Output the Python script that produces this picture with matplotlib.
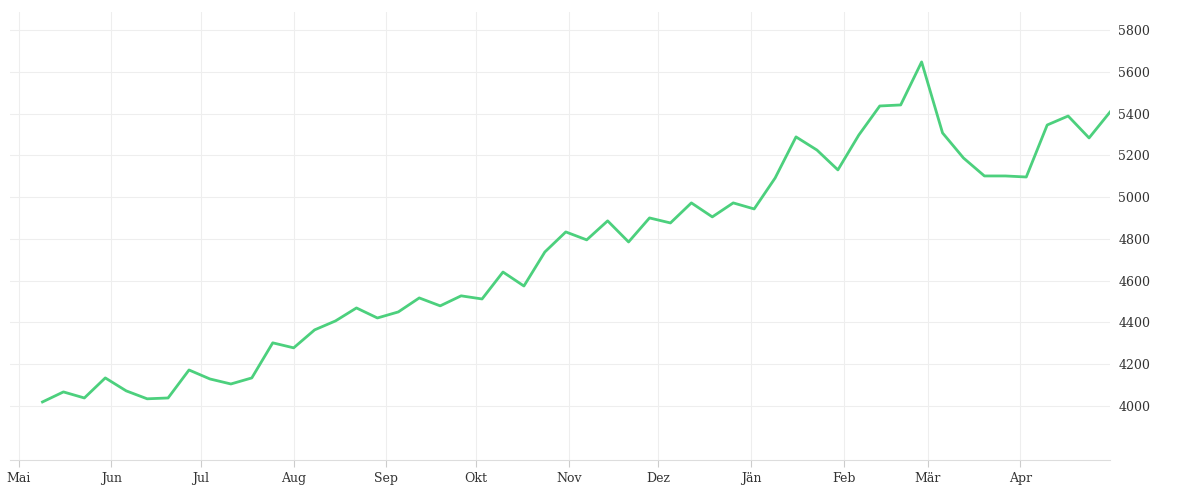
import matplotlib
matplotlib.use("Agg")
import matplotlib.pyplot as plt
import matplotlib.dates as mdates
import numpy as np
import datetime as dt

start = dt.date(2021, 5, 9)
values = [4019, 4067, 4038, 4134, 4072, 4034, 4038, 4172, 4129, 4105, 4134,
          4302, 4278, 4364, 4407, 4469, 4421, 4450, 4517, 4479, 4527, 4512,
          4641, 4574, 4737, 4833, 4795, 4886, 4785, 4900, 4876, 4972, 4905,
          4972, 4943, 5091, 5288, 5225, 5130, 5297, 5436, 5441, 5647, 5307,
          5187, 5101, 5101, 5096, 5345, 5388, 5283, 5407]
dates = [start + dt.timedelta(days=7 * i) for i in range(len(values))]
month_labels = ["Mai", "Jun", "Jul", "Aug", "Sep", "Okt", "Nov", "Dez", "Jän", "Feb", "Mär", "Apr"]
month_starts = [dt.date(2021 + (4 + i) // 12, (4 + i) % 12 + 1, 1) for i in range(12)]
y_ticks = [4000, 4200, 4400, 4600, 4800, 5000, 5200, 5400, 5600, 5800]

plt.rcParams['font.family'] = ['DejaVu Serif']
fig = plt.figure(figsize=(12, 5), dpi=100)
ax = fig.add_axes([0.008, 0.08, 0.917, 0.896])
ax.plot(dates, values, color="#4cd07d", linewidth=2)

ax.set_xlim(dt.date(2021, 4, 28), dt.date(2022, 5, 1))
ax.set_ylim(3741, 5886)
ax.set_xticks(month_starts)
ax.set_xticklabels(month_labels)
ax.set_yticks(y_ticks)
ax.yaxis.tick_right()
ax.tick_params(axis="y", length=0, labelsize=9, colors="#333333", pad=6)
ax.tick_params(axis="x", length=5, color="#cccccc", labelsize=9, colors="#333333")
ax.grid(True, color="#eeeeee", linewidth=0.8)
for s in ["top", "left", "right"]:
    ax.spines[s].set_visible(False)
ax.spines["bottom"].set_color("#dddddd")

fig.savefig("out.png")
